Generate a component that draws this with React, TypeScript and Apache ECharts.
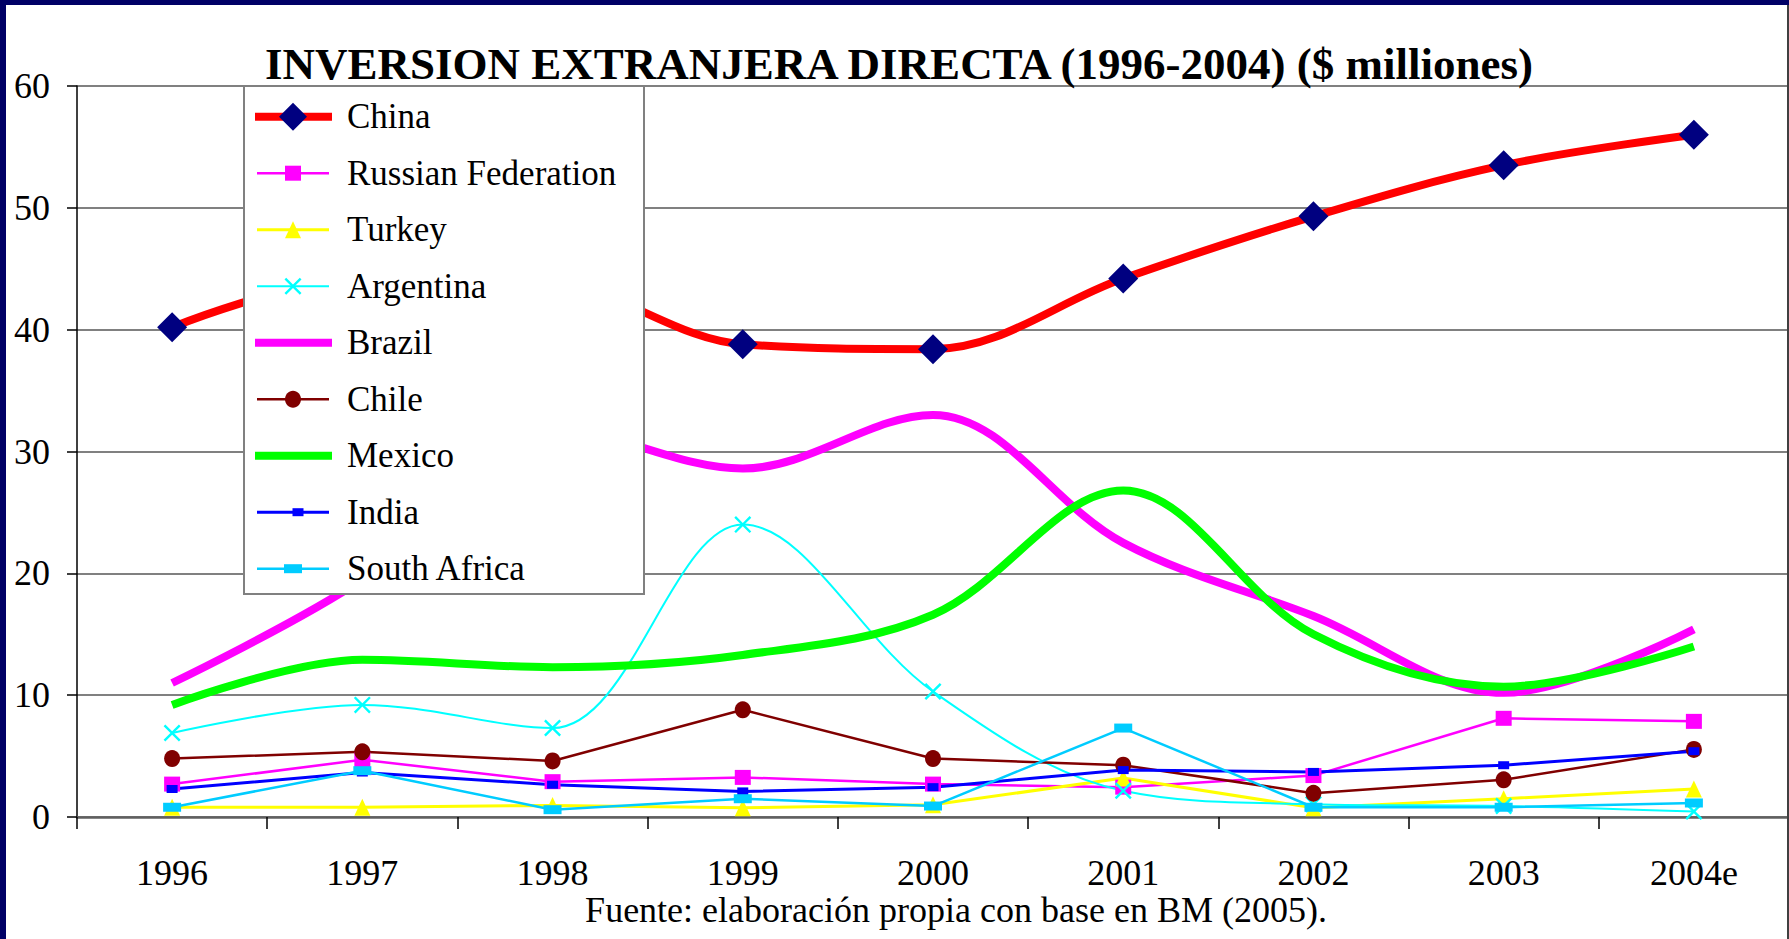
import React, { useEffect, useRef } from "react";
import * as echarts from "echarts";

const years = ["1996", "1997", "1998", "1999", "2000", "2001", "2002", "2003", "2004e"];
const china = [40.2, 44.2, 43.8, 38.8, 38.4, 44.2, 49.3, 53.5, 56.0];
const russia = [2.7, 4.7, 2.9, 3.25, 2.7, 2.45, 3.4, 8.1, 7.85];
const turkey = [0.8, 0.8, 0.95, 0.75, 1.0, 3.2, 0.75, 1.5, 2.3];
const argentina = [6.9, 9.2, 7.3, 24.0, 10.3, 2.15, 1.05, 0.9, 0.45];
const brazil = [11.0, 19.5, 31.9, 28.6, 33.0, 22.5, 16.5, 10.2, 15.4];
const chile = [4.8, 5.35, 4.6, 8.8, 4.8, 4.25, 1.95, 3.05, 5.55];
const mexico = [9.2, 12.9, 12.3, 13.3, 16.6, 26.8, 15.0, 10.7, 14.0];
const india = [2.3, 3.65, 2.65, 2.1, 2.45, 3.85, 3.7, 4.25, 5.4];
const southAfrica = [0.8, 3.8, 0.6, 1.5, 0.9, 7.3, 0.8, 0.8, 1.15];

const yMin = 0;
const yMax = 60;
const yStep = 10;

const titleText = "INVERSION EXTRANJERA DIRECTA (1996-2004) ($ milliones)";
const sourceText = "Fuente: elaboración propia con base en BM (2005).";

const X_PATH = "path://M0,1 L1,0 L5,4 L9,0 L10,1 L6,5 L10,9 L9,10 L5,6 L1,10 L0,9 L4,5 Z";

type Def = {
  name: string;
  data: number[];
  color: string;
  width: number;
  smooth: boolean | number;
  symbol: string;
  size: [number, number];
  marker: string;
};

const defs: Def[] = [
  { name: "China", data: china, color: "#FF0000", width: 8, smooth: 0.35, symbol: "diamond", size: [30, 30], marker: "#000080" },
  { name: "Russian Federation", data: russia, color: "#FF00FF", width: 2.5, smooth: false, symbol: "rect", size: [16, 15], marker: "#FF00FF" },
  { name: "Turkey", data: turkey, color: "#FFFF00", width: 3, smooth: false, symbol: "triangle", size: [16, 17], marker: "#FFFF00" },
  { name: "Argentina", data: argentina, color: "#00FFFF", width: 2, smooth: 0.35, symbol: X_PATH, size: [17, 17], marker: "#00FFFF" },
  { name: "Brazil", data: brazil, color: "#FF00FF", width: 8, smooth: 0.35, symbol: "none", size: [0, 0], marker: "#FF00FF" },
  { name: "Chile", data: chile, color: "#800000", width: 2.5, smooth: false, symbol: "circle", size: [16, 17], marker: "#800000" },
  { name: "Mexico", data: mexico, color: "#00FF00", width: 8, smooth: 0.35, symbol: "none", size: [0, 0], marker: "#00FF00" },
  { name: "India", data: india, color: "#0000FF", width: 3, smooth: false, symbol: "rect", size: [11, 8], marker: "#0000FF" },
  { name: "South Africa", data: southAfrica, color: "#00CCFF", width: 2.5, smooth: false, symbol: "rect", size: [18, 9], marker: "#00CCFF" },
];

const FONT = '"Liberation Serif", "Times New Roman", serif';

function legendSymbol(d: Def, cx: number, cy: number): any | null {
  const z = 102;
  const [w, h] = d.size;
  if (d.symbol === "none") return null;
  if (d.symbol === "diamond") {
    const s = 28;
    return { type: "polygon", z, shape: { points: [[cx, cy - s / 2], [cx + s / 2, cy], [cx, cy + s / 2], [cx - s / 2, cy]] }, style: { fill: d.marker } };
  }
  if (d.symbol === "rect") {
    return { type: "rect", z, shape: { x: cx - w / 2, y: cy - h / 2, width: w, height: h }, style: { fill: d.marker } };
  }
  if (d.symbol === "triangle") {
    return { type: "polygon", z, shape: { points: [[cx, cy - h / 2], [cx + w / 2, cy + h / 2], [cx - w / 2, cy + h / 2]] }, style: { fill: d.marker } };
  }
  if (d.symbol === "circle") {
    return { type: "ellipse", z, shape: { cx, cy, rx: w / 2, ry: h / 2 }, style: { fill: d.marker } };
  }
  // X
  const s = w / 10;
  const pts = [[0, 1], [1, 0], [5, 4], [9, 0], [10, 1], [6, 5], [10, 9], [9, 10], [5, 6], [1, 10], [0, 9], [4, 5]].map(
    ([px, py]) => [cx - w / 2 + px * s, cy - h / 2 + py * s]
  );
  return { type: "polygon", z, shape: { points: pts }, style: { fill: d.marker } };
}

export default function App() {
  const ref = useRef<HTMLDivElement>(null);

  useEffect(() => {
    if (!ref.current) return;
    const chart = echarts.init(ref.current, null, { renderer: "svg" });

    const legendLeft = 244;
    const legendTop = 86;
    const legendW = 400;
    const legendH = 508;
    const firstY = 116.7;
    const stepY = 56.5;

    const legendEls: any[] = [
      {
        type: "rect",
        z: 100,
        shape: { x: legendLeft, y: legendTop, width: legendW, height: legendH },
        style: { fill: "#FFFFFF", stroke: "#808080", lineWidth: 2 },
      },
    ];
    defs.forEach((d, i) => {
      const cy = firstY + i * stepY;
      const thick = d.width >= 6;
      legendEls.push({
        type: "line",
        z: 101,
        shape: { x1: thick ? 255 : 257, y1: cy, x2: thick ? 332 : 329, y2: cy },
        style: { stroke: d.color, lineWidth: d.width },
      });
      const sym = legendSymbol(d, d.name === "India" ? 298 : 293, cy);
      if (sym) legendEls.push(sym);
      legendEls.push({
        type: "text",
        z: 102,
        x: 347,
        y: cy,
        style: {
          text: d.name,
          fill: "#000",
          fontSize: 35,
          fontFamily: FONT,
          align: "left",
          verticalAlign: "middle",
        },
      });
    });

    const option: any = {
      animation: false,
      backgroundColor: "#FFFFFF",
      grid: { left: 77, right: 0, top: 86, bottom: 122, containLabel: false },
      xAxis: {
        type: "category",
        data: years,
        boundaryGap: true,
        axisLine: { show: true, lineStyle: { color: "#606060", width: 2.5 } },
        axisTick: { show: true, length: 12, lineStyle: { color: "#000", width: 1.5 } },
        axisLabel: { fontSize: 36, fontFamily: FONT, color: "#000", margin: 38, interval: 0 },
        splitLine: { show: false },
      },
      yAxis: {
        type: "value",
        min: yMin,
        max: yMax,
        interval: yStep,
        axisLine: { show: true, lineStyle: { color: "#000", width: 1.5 } },
        axisTick: { show: true, length: 10, lineStyle: { color: "#000", width: 1.5 } },
        axisLabel: { fontSize: 36, fontFamily: FONT, color: "#000", margin: 27 },
        splitLine: { show: true, lineStyle: { color: "#808080", width: 2 } },
      },
      series: defs.map((d) => ({
        name: d.name,
        type: "line",
        data: d.data,
        smooth: d.smooth,
        symbol: d.symbol,
        symbolSize: d.size,
        showSymbol: d.symbol !== "none",
        lineStyle: { color: d.color, width: d.width },
        itemStyle: { color: d.marker, borderWidth: 0 },
        emphasis: { disabled: true },
        z: 3,
      })),
      graphic: {
        elements: [
          { type: "rect", z: 200, shape: { x: 0, y: 0, width: 1789, height: 5 }, style: { fill: "#000066" } },
          { type: "rect", z: 200, shape: { x: 0, y: 0, width: 6, height: 939 }, style: { fill: "#000066" } },
          { type: "rect", z: 199, shape: { x: 1787, y: 0, width: 2, height: 939 }, style: { fill: "#404040" } },
          {
            type: "text",
            z: 50,
            x: 899,
            y: 64,
            style: {
              text: titleText,
              fill: "#000",
              fontSize: 45,
              fontWeight: "bold",
              fontFamily: FONT,
              align: "center",
              verticalAlign: "middle",
            },
          },
          {
            type: "text",
            z: 50,
            x: 956,
            y: 910,
            style: {
              text: sourceText,
              fill: "#000",
              fontSize: 36,
              fontFamily: FONT,
              align: "center",
              verticalAlign: "middle",
            },
          },
          ...legendEls,
        ],
      },
    };

    chart.setOption(option);
    return () => {
      chart.dispose();
    };
  }, []);

  return (
    <div style={{ position: "absolute", left: 0, top: 0, width: 1789, height: 939, background: "#FFFFFF" }}>
      <div ref={ref} style={{ width: 1789, height: 939 }} />
    </div>
  );
}
